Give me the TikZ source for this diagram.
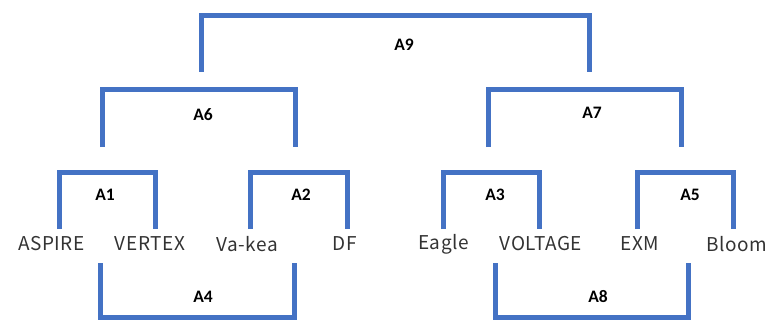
\documentclass[tikz,border=0pt]{standalone}
\usepackage{fontspec}
\setmainfont{Carlito}
\newfontfamily\wordfont[LetterSpace=3]{Noto Sans CJK JP}
\definecolor{brk}{HTML}{4472C4}
\definecolor{wordc}{HTML}{333333}
\begin{document}
\begin{tikzpicture}[x=1pt,y=-1pt,
  bracket/.style={draw=brk,line width=5pt,line join=miter,line cap=butt},
  lab/.style={font=\fontsize{17.5}{17.5}\selectfont\bfseries,text=black,inner sep=0pt},
  word/.style={font=\wordfont\fontsize{19}{19}\selectfont,text=wordc,inner sep=0pt}]
\useasboundingbox (0,0) rectangle (766,321);
% words
\node[word] (aspire) at (51.5,244) {ASPIRE};
\node[word] (vertex) at (150,244) {VERTEX};
\node[word] (vakea) at (247,244) {Va-kea};
\node[word] (df) at (345,244) {DF};
\node[word] (eagle) at (443.5,244) {Eagle};
\node[word] (voltage) at (541,244) {VOLTAGE};
\node[word] (exm) at (640,244) {EXM};
\node[word] (bloom) at (737,244) {Bloom};
% labels
\node[lab] (a1) at (105,195) {A1};
\node[lab] (a2) at (301,195) {A2};
\node[lab] (a3) at (495,195) {A3};
\node[lab] (a5) at (690,195) {A5};
\node[lab] (a4) at (203,297) {A4};
\node[lab] (a8) at (598,297) {A8};
\node[lab] (a6) at (203,115) {A6};
\node[lab] (a7) at (592,113) {A7};
\node[lab] (a9) at (404,45) {A9};
% bracket coordinates
\coordinate (a1l) at (59.5,229); \coordinate (a1r) at (155,229);
\coordinate (a2l) at (250.5,229); \coordinate (a2r) at (347.5,229);
\coordinate (a3l) at (443.5,229); \coordinate (a3r) at (539.5,229);
\coordinate (a5l) at (637.5,229); \coordinate (a5r) at (733.5,229);
\coordinate (a4l) at (100.5,263); \coordinate (a4r) at (294.5,263);
\coordinate (a8l) at (495,263); \coordinate (a8r) at (688,263);
\coordinate (a6l) at (102,147); \coordinate (a6r) at (295.5,147);
\coordinate (a7l) at (488,147); \coordinate (a7r) at (681.5,147);
\coordinate (a9l) at (201.5,72); \coordinate (a9r) at (589.5,72);
% brackets
\draw[bracket] (a1l) |- (107,172.5) -| (a1r);
\draw[bracket] (a2l) |- (300,172.5) -| (a2r);
\draw[bracket] (a3l) |- (490,172.5) -| (a3r);
\draw[bracket] (a5l) |- (685,172.5) -| (a5r);
\draw[bracket] (a4l) |- (200,317.5) -| (a4r);
\draw[bracket] (a8l) |- (590,317.5) -| (a8r);
\draw[bracket] (a6l) |- (200,89.5) -| (a6r);
\draw[bracket] (a7l) |- (585,89.5) -| (a7r);
\draw[bracket] (a9l) |- (400,15.5) -| (a9r);
\end{tikzpicture}
\end{document}
